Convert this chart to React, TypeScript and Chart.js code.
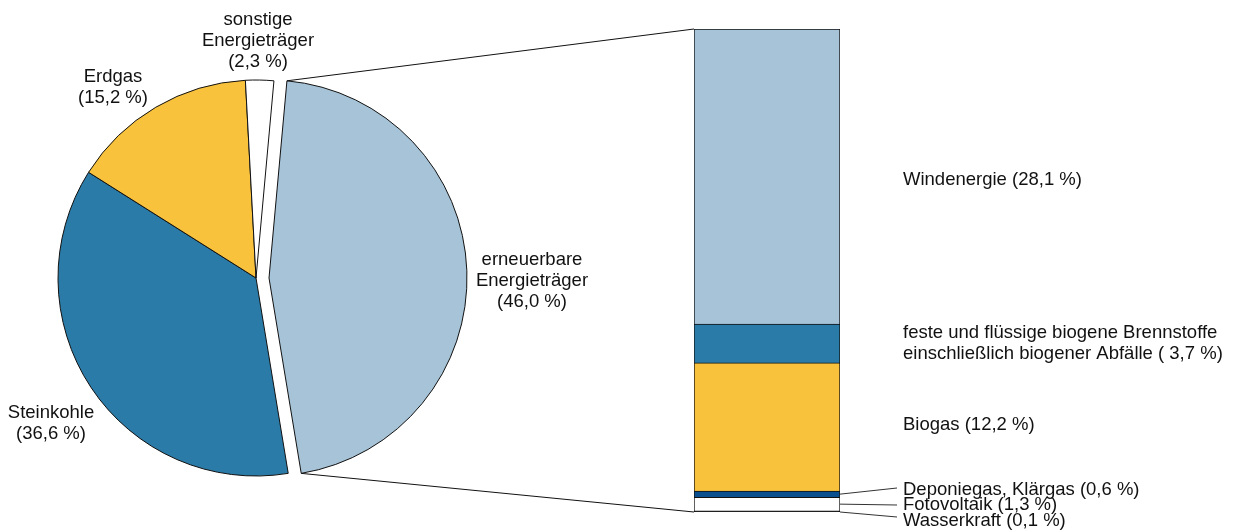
import React, { useEffect, useRef } from "react";
import { Chart, registerables } from "chart.js";

Chart.register(...registerables);

// ---- data ----
const pieNames = [
  ["erneuerbare", "Energieträger"],
  ["Steinkohle"],
  ["Erdgas"],
  ["sonstige", "Energieträger"],
];
const pieValues = [46.0, 36.6, 15.2, 2.3];
const pieColors = ["#a6c3d7", "#2a7ba8", "#f9c23d", "#ffffff"];

const barNames = [
  "Wasserkraft",
  "Fotovoltaik",
  "Deponiegas, Klärgas",
  "Biogas",
  "feste und flüssige biogene Brennstoffe einschließlich biogener Abfälle",
  "Windenergie",
];
const barValues = [0.1, 1.3, 0.6, 12.2, 3.7, 28.1];
const barColors = ["#111111", "#ffffff", "#0a4f8e", "#f9c23d", "#2a7ba8", "#a6c3d7"];
const barLabelLines = [
  ["Wasserkraft (0,1 %)"],
  ["Fotovoltaik (1,3 %)"],
  ["Deponiegas, Klärgas (0,6 %)"],
  ["Biogas (12,2 %)"],
  ["feste und flüssige biogene Brennstoffe", "einschließlich biogener Abfälle ( 3,7 %)"],
  ["Windenergie (28,1 %)"],
];

// ---- layout constants ----
const W = 1234;
const H = 532;
const FONT = '18.5px "Liberation Sans", Arial, sans-serif';
const LINE_H = 20.8;
const PIE_RADIUS = 198;
const EXPLODE_SHIFT = 13;
const ROTATION = 5.2;
const pieLabelPos = [
  [532, 260],
  [51, 413],
  [113, 77],
  [258, 20],
];
const barLabelPos = [
  [903, 521],
  [903, 505],
  [903, 490],
  [903, 425],
  [903, 333],
  [903, 180],
];
// leader lines for small segments: [dataset index, end y]
const leaders = [
  [2, 488],
  [1, 505],
  [0, 517],
];

const fmt = (v: number) => v.toFixed(1).replace(".", ",");
const TRANSPARENT = "rgba(0,0,0,0)";
const BORDER = "#111111";

function pieConfig(explodedOnly: boolean, shift: number): any {
  return {
    type: "pie",
    data: {
      labels: pieNames.map((n) => n.join(" ")),
      datasets: [
        {
          data: pieValues,
          backgroundColor: pieColors.map((c, i) => ((i === 0) === explodedOnly ? c : TRANSPARENT)),
          borderColor: pieColors.map((c, i) => ((i === 0) === explodedOnly ? BORDER : TRANSPARENT)),
          borderWidth: 1,
          radius: PIE_RADIUS,
        },
      ],
    },
    options: {
      animation: false,
      responsive: false,
      events: [],
      rotation: ROTATION,
      radius: PIE_RADIUS,
      layout: { padding: { left: shift, right: 722 - shift, top: 24, bottom: 0 } },
      plugins: { legend: { display: false }, tooltip: { enabled: false } },
    },
  };
}

export default function App() {
  const pieRef = useRef<HTMLCanvasElement | null>(null);
  const expRef = useRef<HTMLCanvasElement | null>(null);
  const barRef = useRef<HTMLCanvasElement | null>(null);

  useEffect(() => {
    const pie = new Chart(pieRef.current!, pieConfig(false, 0));
    const exploded = new Chart(expRef.current!, pieConfig(true, EXPLODE_SHIFT));

    const overlay = {
      id: "overlay",
      afterDatasetsDraw(chart: any) {
        const ctx = chart.ctx as CanvasRenderingContext2D;
        ctx.save();
        // connecting lines from exploded slice to bar
        const arc: any = exploded.getDatasetMeta(0).data[0];
        const p = arc.getProps(["x", "y", "startAngle", "endAngle", "outerRadius"], true);
        const r = p.outerRadius;
        const s1 = [p.x + Math.cos(p.startAngle) * r, p.y + Math.sin(p.startAngle) * r];
        const s2 = [p.x + Math.cos(p.endAngle) * r, p.y + Math.sin(p.endAngle) * r];
        const topBar: any = chart.getDatasetMeta(barValues.length - 1).data[0];
        const botBar: any = chart.getDatasetMeta(0).data[0];
        const left = topBar.x - topBar.width / 2;
        const right = topBar.x + topBar.width / 2;
        ctx.strokeStyle = BORDER;
        ctx.lineWidth = 1;
        ctx.beginPath();
        ctx.moveTo(s1[0], s1[1]);
        ctx.lineTo(left, topBar.y);
        ctx.moveTo(s2[0], s2[1]);
        ctx.lineTo(left, botBar.base);
        ctx.stroke();
        // leader lines
        ctx.strokeStyle = "#333333";
        leaders.forEach(([idx, ey]) => {
          const el: any = chart.getDatasetMeta(idx).data[0];
          const my = idx === 0 ? el.base : (el.y + el.base) / 2;
          ctx.beginPath();
          ctx.moveTo(right, my);
          ctx.lineTo(897, ey);
          ctx.stroke();
        });
        // texts
        ctx.fillStyle = BORDER;
        ctx.font = FONT;
        ctx.textBaseline = "middle";
        ctx.textAlign = "center";
        pieNames.forEach((lines, i) => {
          const all = [...lines, `(${fmt(pieValues[i])} %)`];
          all.forEach((l, k) => ctx.fillText(l, pieLabelPos[i][0], pieLabelPos[i][1] + k * LINE_H));
        });
        ctx.textAlign = "left";
        barLabelLines.forEach((lines, i) => {
          lines.forEach((l, k) => ctx.fillText(l, barLabelPos[i][0], barLabelPos[i][1] + k * LINE_H));
        });
        ctx.restore();
      },
    };

    const bar = new Chart(barRef.current!, {
      type: "bar",
      data: {
        labels: [""],
        datasets: barValues.map((v, i) => ({
          label: barNames[i],
          data: [v],
          backgroundColor: barColors[i],
          borderColor: BORDER,
          borderWidth: 1,
          barPercentage: 1,
          categoryPercentage: 1,
        })),
      },
      options: {
        animation: false,
        responsive: false,
        events: [],
        layout: { padding: { left: 694, right: 394, top: 29, bottom: 20 } },
        scales: {
          x: { display: false, stacked: true },
          y: { display: false, stacked: true, min: 0, max: pieValues[0] },
        },
        plugins: { legend: { display: false }, tooltip: { enabled: false } },
      } as any,
      plugins: [overlay],
    });

    return () => {
      bar.destroy();
      exploded.destroy();
      pie.destroy();
    };
  }, []);

  const cs: React.CSSProperties = { position: "absolute", left: 0, top: 0 };
  return (
    <div style={{ position: "fixed", left: 0, top: 0, width: W, height: H, background: "#ffffff" }}>
      <canvas ref={pieRef} width={W} height={H} style={cs} />
      <canvas ref={expRef} width={W} height={H} style={cs} />
      <canvas ref={barRef} width={W} height={H} style={cs} />
    </div>
  );
}
